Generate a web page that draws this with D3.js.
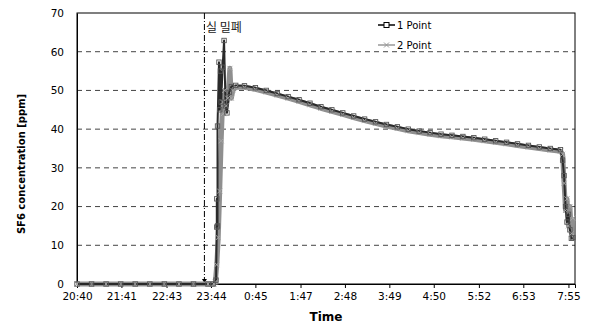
<!DOCTYPE html>
<html>
<head>
<meta charset="utf-8">
<title>SF6 concentration</title>
<script src="https://d3js.org/d3.v7.min.js"></script>
<style>
  body { margin: 0; background: #fff; }
  text { font-family: "DejaVu Sans", sans-serif; fill: #000; }
</style>
</head>
<body>
<svg width="590" height="323"></svg>
<script>
// axis labels
var timeTicks = ["20:40", "21:41", "22:43", "23:44", "0:45", "1:47", "2:48", "3:49", "4:50", "5:52", "6:53", "7:55"];
var yTicks = [0, 10, 20, 30, 40, 50, 60, 70];
var seriesNames = ["1 Point", "2 Point"];

// series 1 (squares)
var times1 = ["20:40", "21:00", "21:20", "21:40", "22:00", "22:20", "22:40", "23:00", "23:20", "23:40", "23:47",
  "23:51", "23:52", "23:52", "23:53", "23:53", "23:55", "23:56", "23:57", "23:58", "0:00", "0:02", "0:04", "0:06", "0:09", "0:12", "0:18",
  "0:30", "0:45", "1:00", "1:15", "1:30", "1:45", "2:00", "2:15", "2:30", "2:45", "3:00", "3:15", "3:30", "3:45", "4:00",
  "4:15", "4:30", "4:45", "5:00", "5:15", "5:30", "5:45", "6:00", "6:15", "6:30", "6:45", "7:00", "7:15", "7:30", "7:44",
  "7:47", "7:49", "7:51", "7:53", "7:55", "7:57", "7:59", "8:01"];
var values1 = [0, 0, 0, 0, 0, 0, 0, 0, 0, 0, 0,
  1, 14.7, 22, 15, 40.8, 57.3, 45, 55, 47, 56, 62.9, 46, 44.2, 49.5, 51, 51.3,
  51.2, 50.7, 50.0, 49.2, 48.4, 47.6, 46.7, 45.8, 45.0, 44.2, 43.4, 42.6, 41.9, 41.2, 40.6,
  40.0, 39.5, 39.1, 38.7, 38.4, 38.1, 37.8, 37.4, 37.0, 36.6, 36.2, 35.8, 35.4, 35.0, 34.7,
  32.0, 28, 20, 16, 18, 14, 11.8, 12];

// series 2 (crosses)
var times2 = ["20:40", "21:00", "21:20", "21:40", "22:00", "22:20", "22:40", "23:00", "23:20", "23:40",
  "23:48", "23:50", "23:52", "23:54", "23:56", "23:58", "0:00", "0:01", "0:03", "0:05", "0:07", "0:10", "0:12", "0:14", "0:18",
  "0:30", "0:45", "1:00", "1:15", "1:30", "1:45", "2:00", "2:15", "2:30", "2:45", "3:00", "3:15", "3:30", "3:45", "4:00",
  "4:15", "4:30", "4:45", "5:00", "5:15", "5:30", "5:45", "6:00", "6:15", "6:30", "6:45", "7:00", "7:15", "7:30", "7:44",
  "7:47", "7:49", "7:51", "7:53", "7:55", "7:57", "7:59", "8:01"];
var values2 = [0, 0, 0, 0, 0, 0, 0, 0, 0, 0,
  0, 0.5, 5, 12, 24, 37, 47, 44, 50, 46, 48, 55.7, 48, 50, 50.8,
  50.8, 50.3, 49.6, 48.8, 48.0, 47.2, 46.3, 45.4, 44.6, 43.8, 43.0, 42.2, 41.5, 40.8, 40.2,
  39.6, 39.1, 38.7, 38.3, 38.0, 37.7, 37.4, 37.0, 36.6, 36.2, 35.8, 35.4, 35.0, 34.6, 34.3,
  33.5, 26, 19, 22, 15, 20, 13, 17];

// sealing moment marker
var sealTime = "23:35";
var sealLabel = "실 밀폐";

// minutes since 20:40 (wraps past midnight)
function toMin(t) {
  var p = t.split(":");
  var m = (+p[0]) * 60 + (+p[1]) - (20 * 60 + 40);
  if (m < 0) m += 1440;
  return m;
}

var svg = d3.select("svg");
var plotL = 77, plotR = 575, plotT = 13, plotB = 284;

var x = d3.scaleLinear().domain([0, 684]).range([plotL, plotR]);
var y = d3.scaleLinear().domain([0, 70]).range([plotB, plotT]);

// dashed gridlines
svg.append("g")
  .selectAll("line")
  .data(yTicks.filter(function(d) { return d > 0 && d < 70; }))
  .enter().append("line")
  .attr("x1", plotL).attr("x2", plotR)
  .attr("y1", function(d) { return y(d); })
  .attr("y2", function(d) { return y(d); })
  .attr("stroke", "#444")
  .attr("stroke-dasharray", "5,4");

// frame
svg.append("rect")
  .attr("x", plotL).attr("y", plotT)
  .attr("width", plotR - plotL).attr("height", plotB - plotT)
  .attr("fill", "none").attr("stroke", "#000");

// y axis
var yAxis = svg.append("g")
  .attr("transform", "translate(" + plotL + ",0)")
  .call(d3.axisLeft(y).tickValues(yTicks).tickSize(0).tickPadding(13));
yAxis.select(".domain").attr("stroke", "#000");
yAxis.selectAll("text").style("font-size", "10.5px").style("font-family", "DejaVu Sans, sans-serif");

// x axis
var xAxis = svg.append("g")
  .attr("transform", "translate(0," + plotB + ")")
  .call(d3.axisBottom(x)
    .tickValues(timeTicks.map(toMin))
    .tickFormat(function(d, i) { return timeTicks[i]; })
    .tickSize(4).tickPadding(5));
xAxis.select(".domain").attr("stroke", "#000");
xAxis.selectAll("text").style("font-size", "10.5px").style("font-family", "DejaVu Sans, sans-serif");

// axis titles
svg.append("text")
  .attr("transform", "translate(25,164) rotate(-90)")
  .attr("text-anchor", "middle")
  .style("font-size", "10px").style("font-weight", "bold")
  .text("SF6 concentration [ppm]");

svg.append("text")
  .attr("x", 326).attr("y", 321)
  .attr("text-anchor", "middle")
  .style("font-size", "12px").style("font-weight", "bold")
  .text("Time");

// sealing line
var sx = x(toMin(sealTime));
svg.append("line")
  .attr("x1", sx).attr("x2", sx)
  .attr("y1", plotT).attr("y2", plotB - 4)
  .attr("stroke", "#000")
  .attr("stroke-dasharray", "6,2,1,2");
svg.append("path")
  .attr("d", "M" + (sx - 2.5) + "," + (plotB - 5) + "L" + (sx + 2.5) + "," + (plotB - 5) + "L" + sx + "," + (plotB - 1) + "Z")
  .attr("fill", "#000");
svg.append("text")
  .attr("x", sx + 1.5).attr("y", 32)
  .style("font-family", "Noto Sans CJK KR, sans-serif")
  .style("font-size", "12px")
  .style("fill", "#222")
  .text(sealLabel);

var data1 = times1.map(function(t, i) { return { t: toMin(t), v: values1[i] }; });
var data2 = times2.map(function(t, i) { return { t: toMin(t), v: values2[i] }; });

var line = d3.line()
  .x(function(d) { return x(d.t); })
  .y(function(d) { return y(d.v); });

// series 2 (gray, thick band)
svg.append("path").datum(data2)
  .attr("d", line)
  .attr("fill", "none").attr("stroke", "#8f8f8f").attr("stroke-width", 5)
  .attr("stroke-linejoin", "round");

// series 1 (dark)
svg.append("path").datum(data1)
  .attr("d", line)
  .attr("fill", "none").attr("stroke", "#2a2a2a").attr("stroke-width", 2)
  .attr("stroke-linejoin", "round");

// cross markers
function cross(px, py, s) {
  return "M" + (px - s) + "," + (py - s) + "L" + (px + s) + "," + (py + s) +
         "M" + (px - s) + "," + (py + s) + "L" + (px + s) + "," + (py - s);
}
svg.append("g").selectAll("path")
  .data(data2).enter().append("path")
  .attr("d", function(d) { return cross(x(d.t), y(d.v), 2.5); })
  .attr("stroke", "#a5a5a5").attr("stroke-width", 1);

// square markers
svg.append("g").selectAll("rect")
  .data(data1).enter().append("rect")
  .attr("x", function(d) { return x(d.t) - 2.2; })
  .attr("y", function(d) { return y(d.v) - 2.2; })
  .attr("width", 4.4).attr("height", 4.4)
  .attr("fill", "none").attr("stroke", "#555").attr("stroke-width", 0.9);

// legend
var legend = svg.append("g");
var legendY = [25, 45];
legend.append("line").attr("x1", 378).attr("x2", 395).attr("y1", legendY[0]).attr("y2", legendY[0]).attr("stroke", "#000").attr("stroke-width", 1.5);
legend.append("rect").attr("x", 384).attr("y", legendY[0] - 2.5).attr("width", 5).attr("height", 5).attr("fill", "#fff").attr("stroke", "#000");
legend.append("line").attr("x1", 378).attr("x2", 395).attr("y1", legendY[1]).attr("y2", legendY[1]).attr("stroke", "#999").attr("stroke-width", 1.5);
legend.append("path").attr("d", cross(386.5, legendY[1], 2.5)).attr("stroke", "#999");
legend.selectAll("text").data(seriesNames).enter().append("text")
  .attr("x", 397).attr("y", function(d, i) { return legendY[i] + 3.5; })
  .style("font-size", "10px")
  .text(function(d) { return d; });
</script>
</body>
</html>
